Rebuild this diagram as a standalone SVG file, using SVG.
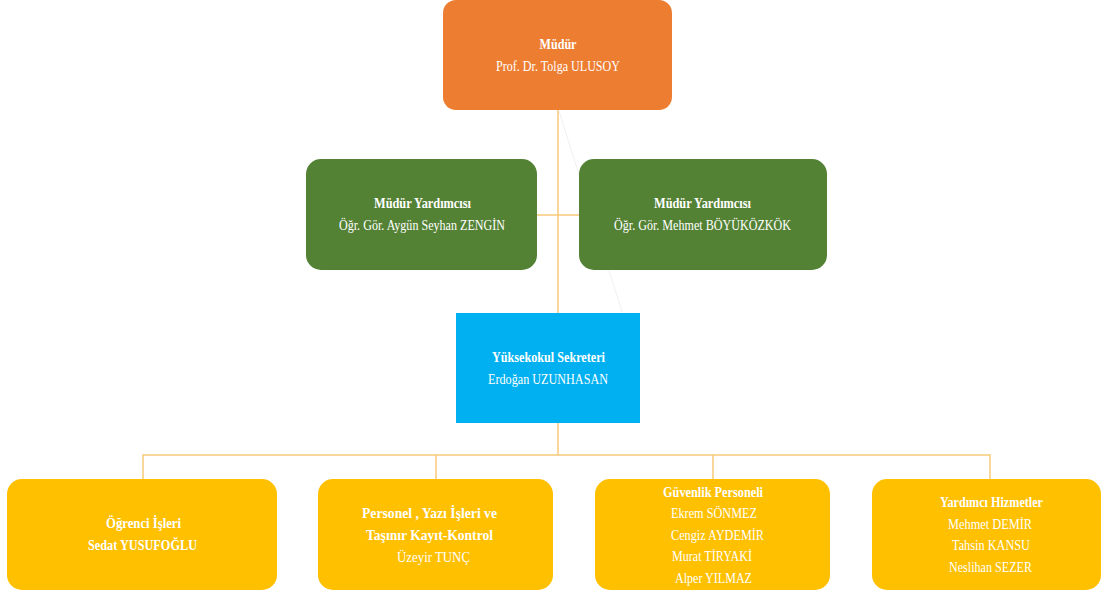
<svg xmlns="http://www.w3.org/2000/svg" width="1103" height="594" viewBox="0 0 1103 594">
<style>
.t{font-family:"Liberation Serif","Times New Roman",serif;font-size:14.5px;fill:#fff;text-anchor:middle}
.b{font-weight:bold}
.c{fill:none;stroke:#F8C97A;stroke-width:1.5}
</style>
<rect width="1103" height="594" fill="#fff"/>
<g id="connectors">
<line class="c" x1="558" y1="110" x2="558" y2="313"/>
<line class="c" x1="537" y1="215" x2="579" y2="215"/>
<line class="c" x1="558" y1="423" x2="558" y2="455"/>
<polyline class="c" points="143,479 143,455 990,455 990,479"/>
<line class="c" x1="436" y1="455" x2="436" y2="479"/>
<line class="c" x1="713" y1="455" x2="713" y2="479"/>
<line x1="559" y1="111" x2="622" y2="312" stroke="#e8ecef" stroke-width="0.8"/>
</g>
<g id="mudur">
<rect x="443" y="0" width="229" height="110" rx="13" fill="#ED7D31"/>
<text class="t b" x="558" y="49" textLength="37" lengthAdjust="spacingAndGlyphs">Müdür</text>
<text class="t" x="558" y="71" textLength="124" lengthAdjust="spacingAndGlyphs">Prof. Dr. Tolga ULUSOY</text>
</g>
<g id="yard1">
<rect x="306" y="159" width="231" height="111" rx="15" fill="#548235"/>
<text class="t b" x="422.5" y="208" textLength="97" lengthAdjust="spacingAndGlyphs">Müdür Yardımcısı</text>
<text class="t" x="422" y="230" textLength="166" lengthAdjust="spacingAndGlyphs">Öğr. Gör. Aygün Seyhan ZENGİN</text>
</g>
<g id="yard2">
<rect x="579" y="159" width="248" height="111" rx="15" fill="#548235"/>
<text class="t b" x="702.5" y="208" textLength="97" lengthAdjust="spacingAndGlyphs">Müdür Yardımcısı</text>
<text class="t" x="702.5" y="230" textLength="177" lengthAdjust="spacingAndGlyphs">Öğr. Gör. Mehmet BÖYÜKÖZKÖK</text>
</g>
<g id="sekreter">
<rect x="456" y="313" width="184" height="110" fill="#00B0F0"/>
<text class="t b" x="548.5" y="362" textLength="113" lengthAdjust="spacingAndGlyphs">Yüksekokul Sekreteri</text>
<text class="t" x="548" y="384" textLength="120" lengthAdjust="spacingAndGlyphs">Erdoğan UZUNHASAN</text>
</g>
<g id="ogrenci">
<rect x="7" y="479" width="270" height="111" rx="15" fill="#FFC000"/>
<text class="t b" x="143.5" y="528" textLength="75" lengthAdjust="spacingAndGlyphs">Öğrenci İşleri</text>
<text class="t b" x="142.5" y="550" textLength="109" lengthAdjust="spacingAndGlyphs">Sedat YUSUFOĞLU</text>
</g>
<g id="personel">
<rect x="318" y="479" width="235" height="111" rx="15" fill="#FFC000"/>
<text class="t b" x="429.5" y="518" textLength="135" lengthAdjust="spacingAndGlyphs">Personel , Yazı İşleri ve</text>
<text class="t b" x="429.5" y="540" textLength="127" lengthAdjust="spacingAndGlyphs">Taşınır Kayıt-Kontrol</text>
<text class="t" x="433.5" y="562" textLength="73" lengthAdjust="spacingAndGlyphs">Üzeyir TUNÇ</text>
</g>
<g id="guvenlik">
<rect x="595" y="479" width="235" height="111" rx="15" fill="#FFC000"/>
<text class="t b" x="713" y="497" textLength="100" lengthAdjust="spacingAndGlyphs">Güvenlik Personeli</text>
<text class="t" x="714" y="518" textLength="86" lengthAdjust="spacingAndGlyphs">Ekrem SÖNMEZ</text>
<text class="t" x="717.5" y="540" textLength="93" lengthAdjust="spacingAndGlyphs">Cengiz AYDEMİR</text>
<text class="t" x="712" y="561" textLength="80" lengthAdjust="spacingAndGlyphs">Murat TİRYAKİ</text>
<text class="t" x="713.5" y="583" textLength="77" lengthAdjust="spacingAndGlyphs">Alper YILMAZ</text>
</g>
<g id="yardimci">
<rect x="872" y="479" width="229" height="111" rx="15" fill="#FFC000"/>
<text class="t b" x="991.5" y="507" textLength="103" lengthAdjust="spacingAndGlyphs">Yardımcı Hizmetler</text>
<text class="t" x="990" y="529" textLength="84" lengthAdjust="spacingAndGlyphs">Mehmet DEMİR</text>
<text class="t" x="991" y="550" textLength="78" lengthAdjust="spacingAndGlyphs">Tahsin KANSU</text>
<text class="t" x="990.5" y="572" textLength="83" lengthAdjust="spacingAndGlyphs">Neslihan SEZER</text>
</g>
</svg>
